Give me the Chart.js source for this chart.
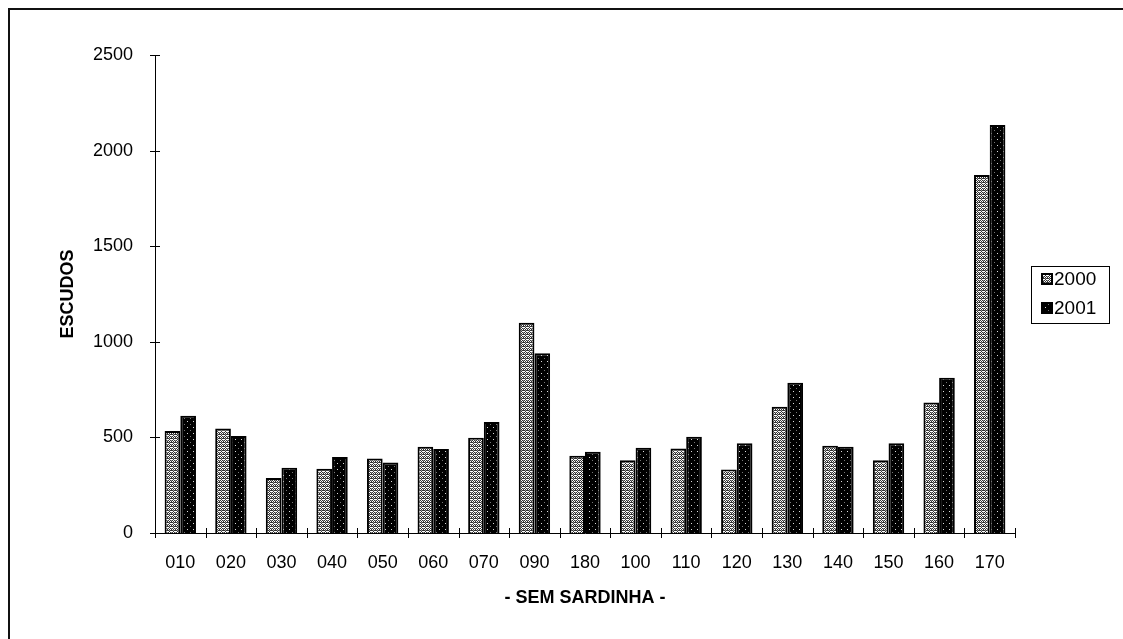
<!DOCTYPE html>
<html>
<head>
<meta charset="utf-8">
<script src="https://cdn.jsdelivr.net/npm/chart.js@4.4.1/dist/chart.umd.min.js"></script>
<style>
  body { margin: 0; background: #fff; }
  #wrap { position: relative; width: 1123px; height: 639px; overflow: hidden; }
  #frame { position: absolute; left: 8px; top: 8px; width: 1200px; height: 700px;
           border-left: 2px solid #111; border-top: 2px solid #111; pointer-events: none; }
</style>
</head>
<body>
<div id="wrap">
  <canvas id="grafico" width="1123" height="639"></canvas>
  <div id="frame"></div>
</div>
<script>
// codigos das regioes (eixo x)
var categorias = ['010', '020', '030', '040', '050', '060', '070', '090', '180',
                  '100', '110', '120', '130', '140', '150', '160', '170'];
// valores em escudos
var valores2000 = [533, 547, 288, 336, 390, 451, 498, 1100, 404, 380, 442, 332, 660, 456, 381, 683, 1873];
var valores2001 = [613, 507, 341, 398, 369, 439, 580, 940, 425, 446, 503, 469, 786, 451, 470, 812, 2134];
var ticksY = [0, 500, 1000, 1500, 2000, 2500];

// padroes de preenchimento (tipo Excel a preto e branco)
function padrao2000() {
    var c = document.createElement('canvas');
    c.width = 4; c.height = 4;
    var g = c.getContext('2d');
    g.fillStyle = '#fff';
    g.fillRect(0, 0, 4, 4);
    g.fillStyle = '#333';
    // losangos claros com pontos escuros
    var pts = [[0,0],[2,0],[1,1],[3,2],[0,2],[2,2],[1,3],[3,1]];
    pts.forEach(function (p) { g.fillRect(p[0], p[1], 1, 1); });
    g.fillStyle = '#999';
    g.fillRect(1, 2, 1, 1);
    g.fillRect(3, 0, 1, 1);
    return g.createPattern(c, 'repeat');
}
function padrao2001() {
    var c = document.createElement('canvas');
    c.width = 6; c.height = 6;
    var g = c.getContext('2d');
    g.fillStyle = '#000';
    g.fillRect(0, 0, 6, 6);
    g.fillStyle = '#ddd';
    g.fillRect(1, 1, 1, 1);
    g.fillStyle = '#777';
    g.fillRect(4, 4, 1, 1);
    return g.createPattern(c, 'repeat');
}

var fill2000 = padrao2000();
var fill2001 = padrao2001();

// tracinhos que cruzam os eixos + caixa da legenda
var extras = {
    id: 'extras',
    afterDraw: function (chart) {
        var ctx = chart.ctx;
        var x = chart.scales.x, y = chart.scales.y;
        ctx.save();
        ctx.strokeStyle = '#000';
        ctx.lineWidth = 1;
        ctx.beginPath();
        ticksY.forEach(function (v) {
            var py = Math.round(y.getPixelForValue(v)) + 0.5;
            ctx.moveTo(x.left - 5, py);
            ctx.lineTo(x.left + 5, py);
        });
        var n = categorias.length;
        for (var i = 0; i <= n; i++) {
            var px = Math.round(x.left + i * (x.right - x.left) / n) + 0.5;
            ctx.moveTo(px, y.bottom - 5);
            ctx.lineTo(px, y.bottom + 5);
        }
        ctx.stroke();

        // legenda
        ctx.lineWidth = 1;
        ctx.strokeRect(1031.5, 266.5, 78, 57);
        ctx.font = '19px "Liberation Sans", Arial, sans-serif';
        ctx.textBaseline = 'middle';
        ctx.textAlign = 'left';
        chart.data.datasets.forEach(function (ds, k) {
            var cy = 279 + k * 29;
            ctx.fillStyle = ds.backgroundColor;
            ctx.fillRect(1042, cy - 5, 10, 10);
            ctx.lineWidth = 2;
            ctx.strokeRect(1042, cy - 5, 10, 10);
            ctx.fillStyle = '#000';
            ctx.fillText(ds.label, 1054, cy + 1);
        });
        ctx.restore();
    }
};

var chart = new Chart(document.getElementById('grafico').getContext('2d'), {
    type: 'bar',
    data: {
        labels: categorias,
        datasets: [
            {
                label: '2000',
                data: valores2000,
                backgroundColor: fill2000,
                borderColor: '#000',
                borderWidth: 2
            },
            {
                label: '2001',
                data: valores2001,
                backgroundColor: fill2001,
                borderColor: '#000',
                borderWidth: 2
            }
        ]
    },
    options: {
        responsive: false,
        animation: false,
        layout: { padding: { left: 0, right: 108, top: 55, bottom: 0 } },
        datasets: { bar: { categoryPercentage: 0.62, barPercentage: 1.0 } },
        plugins: {
            legend: { display: false },
            tooltip: { enabled: false }
        },
        scales: {
            x: {
                grid: { display: false, drawTicks: false },
                border: { display: true, color: '#000', width: 1 },
                ticks: {
                    color: '#000',
                    padding: 19,
                    maxRotation: 0,
                    font: { family: '"Liberation Sans", Arial, sans-serif', size: 18 }
                },
                title: {
                    display: true,
                    text: '- SEM SARDINHA -',
                    color: '#000',
                    padding: { top: 0, bottom: 30 },
                    font: { family: '"Liberation Sans", Arial, sans-serif', size: 18, weight: 'bold' }
                },
                afterFit: function (s) { s.height = 106; }
            },
            y: {
                min: 0,
                max: 2500,
                grid: { display: false, drawTicks: false },
                border: { display: true, color: '#000', width: 1 },
                ticks: {
                    stepSize: 500,
                    color: '#000',
                    padding: 22,
                    callback: function (v) { return String(v); },
                    font: { family: '"Liberation Sans", Arial, sans-serif', size: 18 }
                },
                title: {
                    display: true,
                    text: 'ESCUDOS',
                    color: '#000',
                    padding: { top: 57, bottom: 0 },
                    font: { family: '"Liberation Sans", Arial, sans-serif', size: 18, weight: 'bold' }
                },
                afterFit: function (s) { s.width = 155; }
            }
        }
    },
    plugins: [extras]
});
</script>
</body>
</html>
